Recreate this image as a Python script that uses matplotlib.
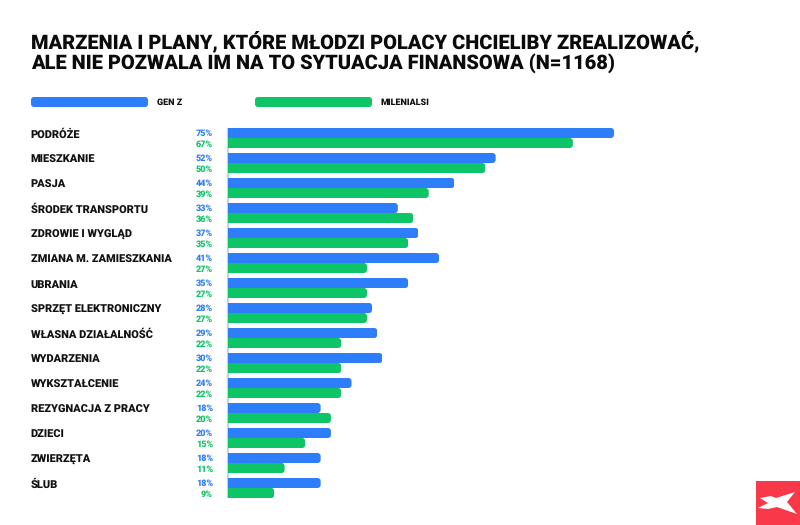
import matplotlib
matplotlib.use("Agg")
import matplotlib.pyplot as plt
from matplotlib.patches import FancyBboxPatch, Rectangle, Polygon

categories = ["PODRÓŻE", "MIESZKANIE", "PASJA", "ŚRODEK TRANSPORTU", "ZDROWIE I WYGLĄD",
              "ZMIANA M. ZAMIESZKANIA", "UBRANIA", "SPRZĘT ELEKTRONICZNY", "WŁASNA DZIAŁALNOŚĆ",
              "WYDARZENIA", "WYKSZTAŁCENIE", "REZYGNACJA Z PRACY", "DZIECI", "ZWIERZĘTA", "ŚLUB"]
gen_z = [75, 52, 44, 33, 37, 41, 35, 28, 29, 30, 24, 18, 20, 18, 18]
millennials = [67, 50, 39, 36, 35, 27, 27, 27, 22, 22, 22, 20, 15, 11, 9]
series_names = ["GEN Z", "MILENIALSI"]
title_lines = ["MARZENIA I PLANY, KTÓRE MŁODZI POLACY CHCIELIBY ZREALIZOWAĆ,",
               "ALE NIE POZWALA IM NA TO SYTUACJA FINANSOWA (N=1168)"]

BLUE = "#2E7DFB"
GREEN = "#0DC567"
W, H = 800, 525
plt.rcParams["font.family"] = ["Roboto", "DejaVu Sans"]
plt.rcParams["text.hinting"] = "no_hinting"
plt.rcParams["text.hinting_factor"] = 1
fig = plt.figure(figsize=(8, 5.25), dpi=100, facecolor="white")

def fx(p): return p / W
def fy(p): return 1 - p / H

# plot axes: x from pixel 228 to 800, one row = 25 px
left, right, top, bottom = 228, 800, 125.5, 500.5
ax = fig.add_axes([fx(left), fy(bottom), (right - left) / W, (bottom - top) / H])
px_per_pct = 5.147
ax.set_xlim(0, (right - left) / px_per_pct)
ax.set_ylim(14.5, -0.5)
ax.axis("off")
aspect = (1 / 25) / (1 / px_per_pct)

def draw(vals, offset, color):
    h = 0.4
    for i, v in enumerate(vals):
        y = i + offset
        bar = ax.barh(y, v, height=h, color=color, linewidth=0, zorder=3)[0]
        clip = FancyBboxPatch((-3, y - h / 2), v + 3, h,
                              boxstyle="round,pad=0,rounding_size=0.6",
                              mutation_aspect=aspect, transform=ax.transData)
        bar.set_clip_path(clip)

draw(gen_z, -0.2, BLUE)
draw(millennials, 0.2, GREEN)
ax.vlines(0, -0.4, 14.4, color="#C3D3EA", lw=1.6, zorder=1, clip_on=False)

for i, (c, a, b) in enumerate(zip(categories, gen_z, millennials)):
    fig.text(fx(30.7), fy(137.45 + 25 * i), c, fontsize=7.9, fontweight="heavy", color="#111111",
             ha="left", va="baseline")
    fig.text(fx(213), fy(136.3 + 25 * i), f"{a}%", fontsize=6.7, fontweight="heavy", color=BLUE,
             ha="right", va="baseline")
    fig.text(fx(213), fy(147 + 25 * i - (0.5 if i == 14 else 0)), f"{b}%", fontsize=6.7, fontweight="heavy", color=GREEN,
             ha="right", va="baseline")

# title
fig.text(fx(30.8), fy(48), title_lines[0], fontsize=14.15, fontweight="black", color="#0B0B0B",
         ha="left", va="baseline")
fig.text(fx(30.8), fy(70), title_lines[1], fontsize=14.15, fontweight="black", color="#0B0B0B",
         ha="left", va="baseline")

# legend and logo on a full-figure pixel overlay
ov = fig.add_axes([0, 0, 1, 1], facecolor="none")
ov.set_xlim(0, W)
ov.set_ylim(H, 0)
ov.axis("off")
for x0, col, name in zip((31, 255), (BLUE, GREEN), series_names):
    ov.add_patch(FancyBboxPatch((x0, 97), 117, 10, boxstyle="round,pad=0,rounding_size=3",
                                fc=col, ec="none"))
    ov.text(x0 + 126, 105, name, fontsize=6.4, fontweight="heavy", color="#111111",
            ha="left", va="baseline")

ov.add_patch(Rectangle((756, 481), 44, 44, fc="#F9384A", ec="none"))
ov.add_patch(Polygon([(760, 498), (771, 496), (776, 498), (795, 492), (787, 502),
                      (797, 514), (777, 507), (768, 509), (758, 508), (768, 503)],
                     closed=True, fc="white", ec="none"))

fig.savefig("out.png", dpi=100, facecolor="white")
